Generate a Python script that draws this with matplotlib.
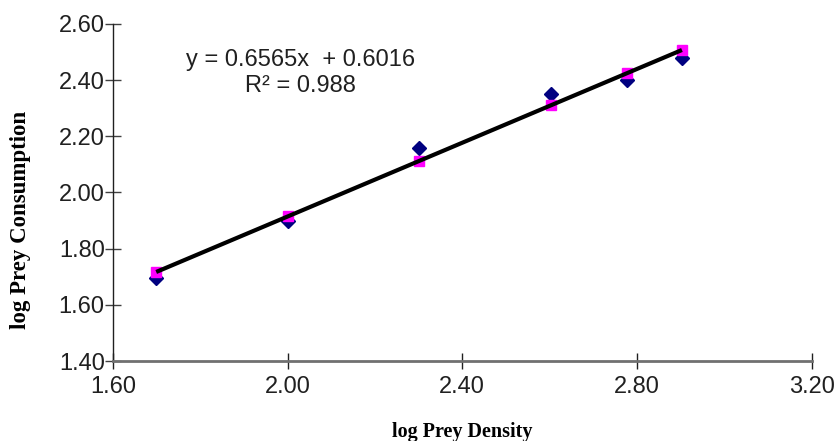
import matplotlib
matplotlib.use('Agg')
import matplotlib.pyplot as plt
import numpy as np

# log prey density (x) and log prey consumption (observed / predicted)
log_density = [1.699, 2.000, 2.301, 2.602, 2.778, 2.903]
log_consumed = [1.695, 1.900, 2.160, 2.350, 2.400, 2.480]
slope = 0.6565
intercept = 0.6016
r_squared = 0.988

x_ticks = [1.60, 2.00, 2.40, 2.80, 3.20]
y_ticks = [1.40, 1.60, 1.80, 2.00, 2.20, 2.40, 2.60]

predicted = [slope * x + intercept for x in log_density]

fig = plt.figure(figsize=(8.35, 4.41), dpi=100)
ax = fig.add_axes([0.1353, 0.1814, 0.8367, 0.7642])

ax.plot(log_density, log_consumed, linestyle='none', marker='D', ms=7,
        color='#000080', zorder=2)
ax.plot(log_density, predicted, linestyle='none', marker='s', ms=7,
        color='#ff00ff', zorder=3)
line_x = np.array([min(log_density), max(log_density)])
ax.plot(line_x, slope * line_x + intercept, color='black', lw=3,
        solid_capstyle='butt', zorder=4)

ax.set_xlim(1.60, 3.20)
ax.set_ylim(1.40, 2.60)
ax.set_xticks(x_ticks)
ax.set_yticks(y_ticks)
ax.set_xticklabels([f'{v:.2f}' for v in x_ticks])
ax.set_yticklabels([f'{v:.2f}' for v in y_ticks])

for side in ['top', 'right']:
    ax.spines[side].set_visible(False)
ax.spines['bottom'].set_color('#707070')
ax.spines['bottom'].set_linewidth(2)
ax.spines['left'].set_color('#202020')
ax.spines['left'].set_linewidth(1)

tick_font = 'Liberation Sans'
ax.tick_params(axis='x', direction='inout', length=12, width=1, color='#202020',
               labelsize=17, pad=5)
ax.tick_params(axis='y', direction='inout', length=12, width=1, color='#404040',
               labelsize=17, pad=0)
for lbl in ax.get_xticklabels() + ax.get_yticklabels():
    lbl.set_fontfamily(tick_font)
    lbl.set_color('#202020')

ax.set_xlabel('log Prey Density', fontfamily='Liberation Serif',
              fontweight='bold', fontsize=14.5, labelpad=17)
ax.set_ylabel('log Prey Consumption', fontfamily='Liberation Serif',
              fontweight='bold', fontsize=16.5)
ax.yaxis.set_label_coords(-0.117, 0.418)

ax.text(2.03, 2.472, f'y = {slope}x  + {intercept}', fontfamily=tick_font,
        fontsize=17, ha='center', va='center', color='#202020')
ax.text(2.03, 2.379, f'R² = {r_squared}', fontfamily=tick_font,
        fontsize=17, ha='center', va='center', color='#202020')

fig.savefig('out.png', dpi=100, facecolor='white')
